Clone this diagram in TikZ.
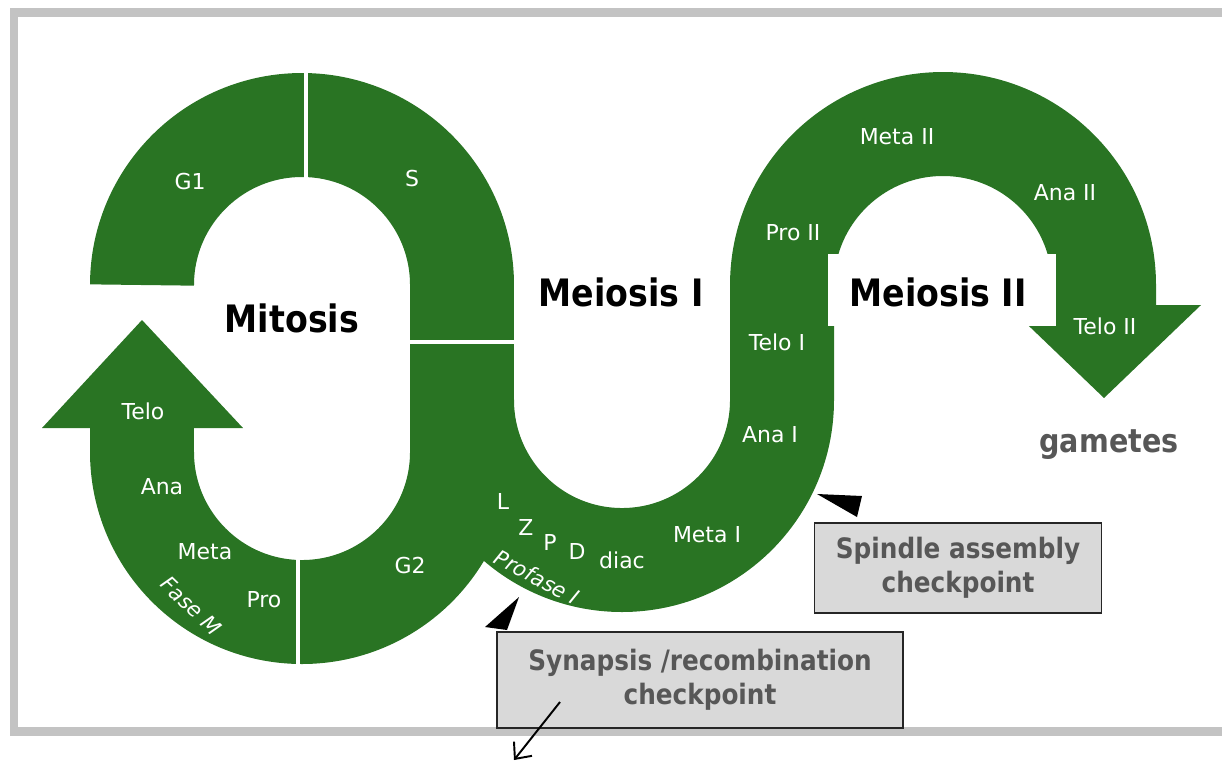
\documentclass[tikz,border=0pt]{standalone}
\usepackage{fontspec}
\setmainfont{DejaVu Sans}
\newfontfamily\tahoma[FakeStretch=0.88]{DejaVu Sans}
\usetikzlibrary{arrows.meta}
\definecolor{cyclegreen}{RGB}{41,116,35}
\definecolor{chkgray}{RGB}{217,217,217}
\definecolor{notegray}{RGB}{87,87,87}
\definecolor{framegray}{RGB}{195,195,195}

\begin{document}
\begin{tikzpicture}[x=0.02cm,y=-0.02cm,
band/.style={
draw=cyclegreen,
line width=2.08cm,
},
divider/.style={
draw=white,
line width=0.08cm,
},
phase/.style={
font=\fontsize{12.5}{14}\selectfont,
text=white,
inner sep=0pt,
},
title/.style={
font=\tahoma\bfseries\fontsize{21.5}{24}\selectfont,
anchor=base,
inner sep=0pt,
},
chk/.style={
draw=black!85,
line width=1pt,
fill=chkgray,
text=notegray,
align=center,
inner sep=0pt,
font=\tahoma\bfseries\fontsize{16}{19.5}\selectfont,
},
pointer/.style={
fill=black,
}
]
\useasboundingbox(0,0)rectangle(1222,762);

\draw[framegray,line width=0.18cm](14,12)rectangle(1260,731);

%Mitosis loop
\draw[band](142,285)arc(180:360:160)--(462,452)arc(0:180:160)--(142,426);
\fill[cyclegreen](42,428)--(243,428)--(142,320)--cycle;

%Meiosis
\draw[band](462,400)arc(180:0:160)--(782,285)arc(180:360:161)--(1104,308);
\fill[cyclegreen](1007,305)--(1201,305)--(1104,398)--cycle;

\draw[divider](306,60)--(306,180);
\draw[divider](404,342)--(520,342);
\draw[divider](298,548)--(298,672);

\node[phase](phG1)at(190,181){G1};
\node[phase](phS)at(412,178){S};
\node[phase](phG2)at(410,565){G2};
\node[phase](phTelo)at(143,411){Telo};
\node[phase](phAna)at(162,487){Ana};
\node[phase](phMeta)at(205,552){Meta};
\node[phase](phPro)at(264,600){Pro};
\node[phase,font=\itshape\fontsize{12}{14}\selectfont,rotate=-44](phFaseM)at(191,606){Fase M};

\node[phase](phL)at(503,501){L};
\node[phase](phZ)at(526,527){Z};
\node[phase](phP)at(550,542){P};
\node[phase](phD)at(577,551){D};
\node[phase](phDiac)at(622,560){diac};
\node[phase,font=\itshape\fontsize{12}{14}\selectfont,rotate=-28](phProfI)at(537,577){Profase I};
\node[phase](phMetaI)at(707,535){Meta I};
\node[phase](phAnaI)at(770,435){Ana I};
\node[phase](phTeloI)at(777,342){Telo I};
\node[phase](phProII)at(793,233){Pro II};
\node[phase](phMetaII)at(897,137){Meta II};
\node[phase](phAnaII)at(1065,193){Ana II};
\node[phase](phTeloII)at(1105,326){Telo II};

\node[title](lblMit)at(292,332){Mitosis};
\node[title](lblMeiI)at(621,306){Meiosis I};
\node[fill=white,minimum width=4.56cm,minimum height=1.44cm,inner sep=0pt](boxMeiII)at(942,290){};
\node[title](lblMeiII)at(938,306){Meiosis II};
\node[title,text=notegray,font=\tahoma\bfseries\fontsize{18.5}{22}\selectfont](lblGam)at(1109,452){gametes};

%checkpoints
\fill[pointer](817,494)--(862,496)--(857,517)--cycle;
\node[chk,minimum width=5.74cm,minimum height=1.8cm](chkSpindle)at(958,568){Spindle assembly\\checkpoint};
\fill[pointer](485,627)--(519,597)--(507,630)--cycle;
\node[chk,minimum width=8.12cm,minimum height=1.92cm](chkSynapsis)at(700,680){Synapsis /recombination\\checkpoint};

\coordinate(synTail)at(560,702);
\coordinate(synHead)at(514,760);
\draw[-{Straight Barb[length=2.6mm,width=4.6mm]},line width=1.1pt](synTail)--(synHead);

\end{tikzpicture}
\end{document}
